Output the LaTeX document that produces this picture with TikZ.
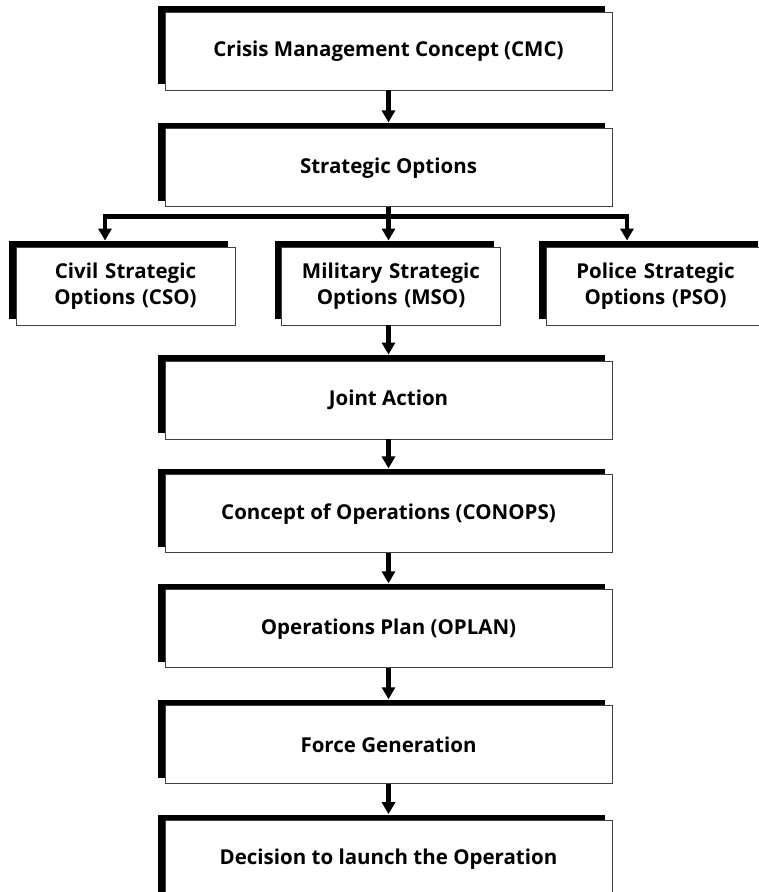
\documentclass[tikz,border=0pt]{standalone}
\usepackage{fontspec}
\setmainfont{Open Sans}
\usetikzlibrary{arrows.meta, positioning, shadows}

\begin{document}
\begin{tikzpicture}[x=1pt,y=-1pt,>={Triangle[length=12pt,width=13pt]},
        font=\fontsize{20.5}{26}\selectfont\bfseries,
        box/.style={draw=black!75,line width=0.9pt,fill=white,minimum width=447pt,minimum height=78pt,inner sep=0pt,align=center,
                    general shadow={fill=black,shadow xshift=-7pt,shadow yshift=6pt}},
        side box/.style={box,minimum width=219pt,text width=205pt},
        link/.style={->,line width=4.5pt}]

        \useasboundingbox (0,0) rectangle (759,892);

        \node[box] (cmc) at (388.5,51)           {Crisis Management Concept (CMC)};
        \node[box] (so)  [below=38pt of cmc]     {Strategic Options};

        \node[side box] (cso) at (125.5,286)     {Civil Strategic\\Options (CSO)};
        \node[side box] (mso) at (391,286)       {Military Strategic\\Options (MSO)};
        \node[side box] (pso) at (655.5,286)     {Police Strategic\\Options (PSO)};

        \node[box] (ja)     at (388.5,400)        {Joint Action};
        \node[box] (conops) [below=35pt of ja]     {Concept of Operations (CONOPS)};
        \node[box] (oplan)  [below=36pt of conops] {Operations Plan (OPLAN)};
        \node[box] (force)  [below=37pt of oplan]  {Force Generation};
        \node[box] (launch) [below=36pt of force]  {Decision to launch the Operation};

        % split below the strategic options
        \coordinate (fork)   at ([yshift=-9pt]so.south);
        \coordinate (cso in) at ([xshift=-20.5pt,yshift=6pt]cso.north);
        \coordinate (pso in) at ([xshift=-28.5pt,yshift=6pt]pso.north);

        \draw[link] (cmc.south) -- ([yshift=6pt]so.north);
        \draw[link] (so.south)  -- ([yshift=6pt]fork |- mso.north);
        \draw[link] (fork) -| (cso in);
        \draw[link] (fork) -| (pso in);
        \draw[link] (ja.north |- mso.south) -- ([yshift=6pt]ja.north);
        \draw[link] (ja.south)     -- ([yshift=6pt]conops.north);
        \draw[link] (conops.south) -- ([yshift=6pt]oplan.north);
        \draw[link] (oplan.south)  -- ([yshift=6pt]force.north);
        \draw[link] (force.south)  -- ([yshift=6pt]launch.north);
\end{tikzpicture}
\end{document}
